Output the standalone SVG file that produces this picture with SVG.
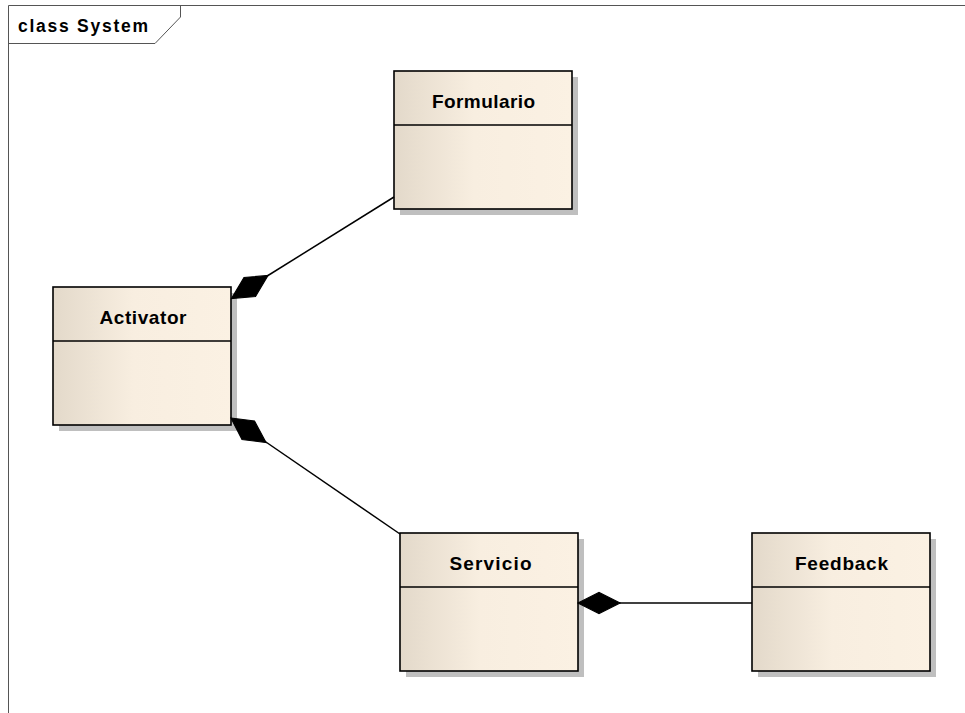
<svg xmlns="http://www.w3.org/2000/svg" width="965" height="713" viewBox="0 0 965 713">
  <style>
    .frame { fill: none; stroke: #555; stroke-width: 1; }
    .frame-title { font-family: "Liberation Sans", Arial, sans-serif; font-weight: bold; font-size: 17.5px; fill: #000; }
    .shadow { fill: #bfbfbf; }
    .box { fill: url(#classFill); stroke: #000; stroke-width: 1.6; }
    .divider { stroke: #000; stroke-width: 1.6; }
    .name { font-family: "Liberation Sans", Arial, sans-serif; font-weight: bold; font-size: 19px; fill: #000; text-anchor: middle; }
    .link { fill: none; stroke: #000; stroke-width: 1.5; }
    .diamond { fill: #000; stroke: #000; stroke-width: 1.2; stroke-linejoin: miter; }
  </style>
  <defs>
    <linearGradient id="classFill" x1="0" y1="0" x2="1" y2="0">
      <stop offset="0" stop-color="#e3d9ca"/>
      <stop offset="0.45" stop-color="#f8eee0"/>
      <stop offset="1" stop-color="#fbf1e3"/>
    </linearGradient>
  </defs>

  <rect width="965" height="713" fill="#ffffff"/>

  <!-- diagram frame with title tab -->
  <g id="frame">
    <path class="frame" d="M8.5,713 V5.5 H965"/>
    <path class="frame" d="M8.5,43.5 H155 L180.5,17 V5.5"/>
    <text class="frame-title" x="18" y="32" textLength="130" lengthAdjust="spacing">class System</text>
  </g>

  <g id="Formulario">
    <rect class="shadow" x="400" y="77" width="178" height="138"/>
    <rect class="box" x="394" y="71" width="178" height="138"/>
    <line class="divider" x1="394" y1="125" x2="572" y2="125"/>
    <text class="name" x="483.5" y="108" textLength="103" lengthAdjust="spacing">Formulario</text>
  </g>

  <g id="Activator">
    <rect class="shadow" x="59" y="293" width="178" height="138"/>
    <rect class="box" x="53" y="287" width="178" height="138"/>
    <line class="divider" x1="53" y1="341" x2="231" y2="341"/>
    <text class="name" x="143" y="324" textLength="87" lengthAdjust="spacing">Activator</text>
  </g>

  <g id="Servicio">
    <rect class="shadow" x="406" y="539" width="178" height="138"/>
    <rect class="box" x="400" y="533" width="178" height="138"/>
    <line class="divider" x1="400" y1="587" x2="578" y2="587"/>
    <text class="name" x="490.5" y="570" textLength="82" lengthAdjust="spacing">Servicio</text>
  </g>

  <g id="Feedback">
    <rect class="shadow" x="758" y="539" width="178" height="138"/>
    <rect class="box" x="752" y="533" width="178" height="138"/>
    <line class="divider" x1="752" y1="587" x2="930" y2="587"/>
    <text class="name" x="841.5" y="570" textLength="93" lengthAdjust="spacing">Feedback</text>
  </g>

  <!-- associations (composition, diamond on the whole), drawn over the shadows -->
  <g id="connectors">
    <line class="link" x1="394" y1="197" x2="264" y2="278"/>
    <polygon class="diamond" points="231.5,298.5 244,277.5 268,275.5 255.5,296.5"/>

    <line class="link" x1="400" y1="534" x2="263" y2="440"/>
    <polygon class="diamond" points="231,418 254.5,421 266,442.5 242,439.5"/>

    <line class="link" x1="752" y1="603" x2="619" y2="603"/>
    <polygon class="diamond" points="578,603 599,592.5 620,603 599,613.5"/>
  </g>
</svg>
